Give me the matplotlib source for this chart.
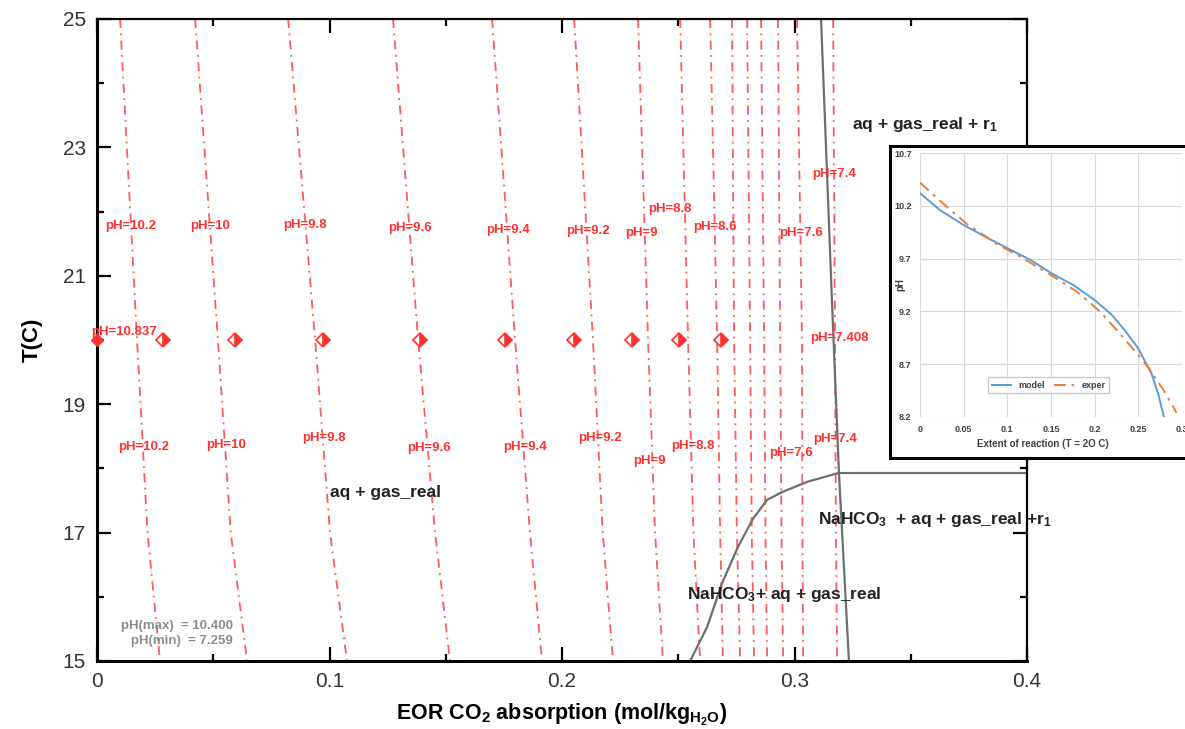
import matplotlib.pyplot as plt
from matplotlib.patches import Rectangle
from matplotlib.ticker import MultipleLocator, FixedLocator

plt.rcParams['font.family'] = ['Liberation Sans', 'DejaVu Sans']
plt.rcParams['mathtext.fontset'] = 'custom'
plt.rcParams['mathtext.rm'] = 'Liberation Sans'
plt.rcParams['mathtext.bf'] = 'Liberation Sans:bold'
plt.rcParams['mathtext.it'] = 'Liberation Sans:italic'

# iso-pH lines: CO2 absorption read at T = 25, 20, 17, 15 C
temps = [25, 20, 17, 15]
ph_levels = [10.2, 10, 9.8, 9.6, 9.4, 9.2, 9, 8.8, 8.6, 8.4, 8.2, 8.0, 7.8, 7.6, 7.4]
x_t25 = [0.0099, 0.0422, 0.0822, 0.1273, 0.1699, 0.2052, 0.2327, 0.2508, 0.2637,
         0.2731, 0.2796, 0.2856, 0.2929, 0.3011, 0.3166]
x_t20 = [0.0172, 0.0520, 0.0938, 0.1381, 0.1798, 0.2133, 0.2370, 0.2542, 0.2667,
         0.2740, 0.2809, 0.2869, 0.2938, 0.3032, 0.3174]
x_t17 = [0.0217, 0.0575, 0.1002, 0.1454, 0.1862, 0.2175, 0.2400, 0.2565, 0.2680,
         0.2752, 0.2816, 0.2875, 0.2944, 0.3034, 0.3178]
x_t15 = [0.0271, 0.0645, 0.1075, 0.1518, 0.1914, 0.2219, 0.2434, 0.2594, 0.2692,
         0.2766, 0.2826, 0.2882, 0.2951, 0.3037, 0.3183]

# pH labels (upper row and lower row)
top_lbl = ['10.2', '10', '9.8', '9.6', '9.4', '9.2', '9', '8.8', '8.6', '7.6', '7.4']
top_x = [0.0146, 0.0486, 0.0895, 0.1346, 0.1768, 0.2112, 0.2340, 0.2465, 0.2658, 0.3028, 0.3170]
top_t = [21.78, 21.78, 21.79, 21.75, 21.72, 21.70, 21.67, 22.04, 21.76, 21.66, 22.58]
low_lbl = ['10.2', '10', '9.8', '9.6', '9.4', '9.2', '9', '8.8', '7.6', '7.4']
low_x = [0.0202, 0.0555, 0.0976, 0.1428, 0.1841, 0.2163, 0.2374, 0.2563, 0.2985, 0.3174]
low_t = [18.33, 18.36, 18.47, 18.32, 18.33, 18.47, 18.12, 18.35, 18.24, 18.46]

# reaction path points at 20 C
diam_x = [0, 0.0284, 0.0594, 0.0972, 0.1389, 0.1755, 0.2052, 0.2301, 0.2503, 0.2684]
diam_t = 20

# phase boundaries
b1_x = [0.3114, 0.3161, 0.3191, 0.3234]
b1_t = [25, 20.6, 17.93, 15]
b2_x = [0.3191, 0.4]
b2_t = [17.93, 17.93]
b3_x = [0.2551, 0.2624, 0.2688, 0.2757, 0.2822, 0.2882, 0.2946, 0.3054, 0.3191]
b3_t = [15.0, 15.53, 16.21, 16.78, 17.22, 17.51, 17.63, 17.79, 17.93]

# inset: pH vs extent of reaction
model_x = [0, 0.0229, 0.0496, 0.0763, 0.0999, 0.1259, 0.1507, 0.1755, 0.1995,
           0.2193, 0.2346, 0.2498, 0.2651, 0.2727, 0.2792]
model_ph = [10.32, 10.16, 10.02, 9.90, 9.80, 9.69, 9.56, 9.45, 9.31,
            9.17, 9.02, 8.85, 8.61, 8.42, 8.20]
exper_x = [0, 0.0267, 0.0534, 0.0877, 0.1144, 0.1507, 0.1793, 0.2059, 0.2288,
           0.2517, 0.2632, 0.2784, 0.2937]
exper_ph = [10.42, 10.22, 10.03, 9.84, 9.72, 9.54, 9.39, 9.20, 8.99,
            8.77, 8.65, 8.46, 8.24]

red = '#ff3030'
gray = '#6e6e6e'

fig = plt.figure(figsize=(11.85, 7.29), dpi=100)
ax = fig.add_axes([0.0819, 0.0933, 0.7848, 0.8807])

for i in range(len(ph_levels)):
    xs = [x_t25[i], x_t20[i], x_t17[i], x_t15[i]]
    ax.plot(xs, temps, color='#ff5a5a', lw=1.3, ls=(0, (5, 3, 1, 3)))

for lbl, x, t in zip(top_lbl, top_x, top_t):
    ax.text(x, t, 'pH=' + lbl, color=red, fontsize=9.5, fontweight='bold',
            ha='center', va='center')
for lbl, x, t in zip(low_lbl, low_x, low_t):
    ax.text(x, t, 'pH=' + lbl, color=red, fontsize=9.5, fontweight='bold',
            ha='center', va='center')
ax.text(0.0116, 20.12, 'pH=10.837', color=red, fontsize=9.5, fontweight='bold',
        ha='center', va='center')
ax.text(0.3191, 20.03, 'pH=7.408', color=red, fontsize=9.5, fontweight='bold',
        ha='center', va='center')

ax.plot(diam_x[0], diam_t, marker='D', ms=6, color=red, clip_on=False, zorder=5)
ax.plot(diam_x[1:], [diam_t] * (len(diam_x) - 1), ls='none', marker='D', ms=7,
        color=red, fillstyle='right', markerfacecoloralt='white', mec=red,
        mew=1.2, zorder=5)

ax.plot(b1_x, b1_t, color=gray, lw=1.6)
ax.plot(b2_x, b2_t, color=gray, lw=1.6)
ax.plot(b3_x, b3_t, color=gray, lw=1.6)

ax.text(0.3247, 23.35, r'aq + gas_real + r$_\mathbf{1}$', fontsize=12.5,
        fontweight='bold', va='center', color='#222222')
ax.text(0.1002, 17.62, 'aq + gas_real', fontsize=12.5, fontweight='bold',
        va='center', color='#222222')
ax.text(0.3101, 17.20, r'NaHCO$_\mathbf{3}$  + aq + gas_real +r$_\mathbf{1}$',
        fontsize=12.5, fontweight='bold', va='center', color='#222222')
ax.text(0.2538, 16.03, r'NaHCO$_\mathbf{3}$+ aq + gas_real', fontsize=12.5,
        fontweight='bold', va='center', color='#222222')
ax.text(0.0585, 15.55, 'pH(max)  = 10.400', fontsize=9.5, fontweight='bold',
        ha='right', va='center', color='#8c8c8c')
ax.text(0.0585, 15.31, 'pH(min)  = 7.259', fontsize=9.5, fontweight='bold',
        ha='right', va='center', color='#8c8c8c')

ax.set_xlim(0, 0.4)
ax.set_ylim(15, 25)
ax.xaxis.set_major_locator(MultipleLocator(0.1))
ax.xaxis.set_minor_locator(MultipleLocator(0.05))
ax.yaxis.set_major_locator(FixedLocator([15, 17, 19, 21, 23, 25]))
ax.yaxis.set_minor_locator(FixedLocator([16, 18, 20, 22, 24]))
ax.xaxis.set_major_formatter(plt.FuncFormatter(lambda v, p: '0' if v == 0 else '%g' % v))
ax.tick_params(which='both', direction='in', top=True, right=True, width=1.6,
               labelsize=15, labelcolor='#333333')
ax.tick_params(which='major', length=10, pad=8)
ax.tick_params(which='minor', length=5)
for side in ['left', 'bottom']:
    ax.spines[side].set_linewidth(2.2)
for side in ['top', 'right']:
    ax.spines[side].set_linewidth(1.6)
ax.set_xlabel(r'EOR CO$_\mathbf{2}$ absorption (mol/kg$_\mathbf{H_2O}$)',
              fontsize=15.5, fontweight='bold', labelpad=8)
ax.set_ylabel('T(C)', fontsize=16, fontweight='bold', labelpad=14)

# inset frame and axes
fig.add_artist(Rectangle((0.751, 0.3717), 0.3, 0.428, transform=fig.transFigure,
                         facecolor='white', edgecolor='black', lw=2.2, zorder=1))
ins = fig.add_axes([0.7764, 0.428, 0.2211, 0.362])
ins.set_zorder(2)
ins.plot(model_x, model_ph, color='#5b9bd5', lw=1.4, label='model')
ins.plot(exper_x, exper_ph, color='#ed7d31', lw=1.4, ls=(0, (6, 3, 1.5, 3)), label='exper')
ins.set_xlim(0, 0.3)
ins.set_ylim(8.2, 10.7)
ins.set_xticks([0, 0.05, 0.1, 0.15, 0.2, 0.25, 0.3])
ins.set_xticklabels(['0', '0.05', '0.1', '0.15', '0.2', '0.25', '0.3'])
ins.set_yticks([8.2, 8.7, 9.2, 9.7, 10.2, 10.7])
ins.set_yticklabels(['8.2', '8.7', '9.2', '9.7', '10.2', '10.7'])
ins.grid(True, color='#d9d9d9', lw=0.8)
for s in ins.spines.values():
    s.set_visible(False)
ins.tick_params(length=0, labelsize=6.5, labelcolor='#404040', pad=6)
for t in ins.get_xticklabels() + ins.get_yticklabels():
    t.set_fontweight('bold')
ins.set_xlabel('Extent of reaction (T = 2O C)', fontsize=7, fontweight='bold', color='#404040')
ins.xaxis.set_label_coords(0.47, -0.085)
ins.set_ylabel('pH', fontsize=7, fontweight='bold', color='#404040')
ins.yaxis.set_label_coords(-0.055, 0.5)
leg = ins.legend(loc='center', bbox_to_anchor=(0.49, 0.12), ncol=2, fontsize=6.5,
                 handlelength=2.2, columnspacing=1.0, fancybox=False,
                 edgecolor='#bfbfbf', borderpad=0.4)
for t in leg.get_texts():
    t.set_fontweight('bold')
    t.set_color('#404040')

fig.savefig('out.png', dpi=100)
